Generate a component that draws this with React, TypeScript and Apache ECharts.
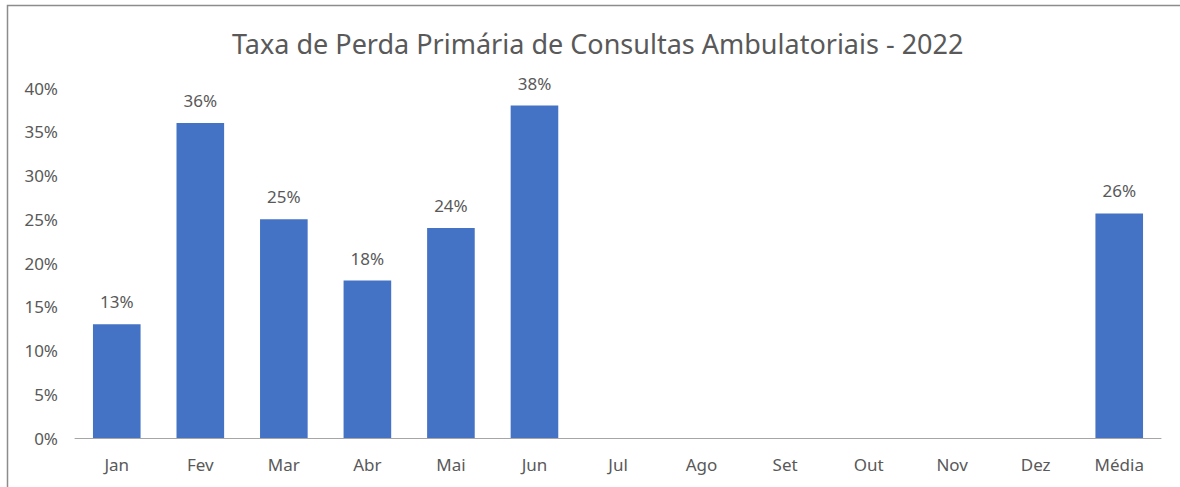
import React, { useEffect, useRef } from "react";
import * as echarts from "echarts";

const categories = ["Jan", "Fev", "Mar", "Abr", "Mai", "Jun", "Jul", "Ago", "Set", "Out", "Nov", "Dez", "Média"];
const values: (number | null)[] = [0.13, 0.36, 0.25, 0.18, 0.24, 0.38, null, null, null, null, null, null, 0.2567];
const titleText = "Taxa de Perda Primária de Consultas Ambulatoriais - 2022";

export default function App() {
  const ref = useRef<HTMLDivElement>(null);
  useEffect(() => {
    document.body.style.margin = "0";
    const chart = echarts.init(ref.current!, null, { renderer: "svg" });
    const font = "'Noto Sans', 'Open Sans', sans-serif";
    chart.setOption({
      animation: false,
      backgroundColor: "#ffffff",
      textStyle: { fontFamily: font },
      title: {
        text: titleText,
        left: 227,
        top: 25,
        textStyle: { fontFamily: font, fontSize: 27, fontWeight: "normal", color: "#595959" },
      },
      graphic: [
        {
          type: "rect",
          shape: { x: 7.5, y: 5.5, width: 1300, height: 600 },
          style: { fill: "none", stroke: "#8c8c8c", lineWidth: 1.5 },
          silent: true,
        },
      ],
      grid: { left: 75, right: 19, top: 88, bottom: 49, containLabel: false },
      xAxis: {
        type: "category",
        data: categories,
        axisLine: { lineStyle: { color: "#a6a6a6", width: 1 } },
        axisTick: { show: false },
        axisLabel: { color: "#595959", fontSize: 17, margin: 18, fontFamily: font },
      },
      yAxis: {
        type: "value",
        min: 0,
        max: 0.4,
        interval: 0.05,
        splitLine: { show: false },
        axisLine: { show: false },
        axisTick: { show: false },
        axisLabel: {
          color: "#595959",
          fontSize: 17,
          margin: 17,
          fontFamily: font,
          formatter: (v: number) => Math.round(v * 100) + "%",
        },
      },
      series: [
        {
          type: "bar",
          data: values,
          barWidth: "57%",
          itemStyle: { color: "#4472C4" },
          label: {
            show: true,
            position: "top",
            distance: 14,
            color: "#595959",
            fontSize: 17,
            fontFamily: font,
            formatter: (p: any) => (p.value == null ? "" : Math.round(p.value * 100) + "%"),
          },
        },
      ],
    });
    return () => chart.dispose();
  }, []);
  return <div ref={ref} style={{ width: 1180, height: 487 }} />;
}
